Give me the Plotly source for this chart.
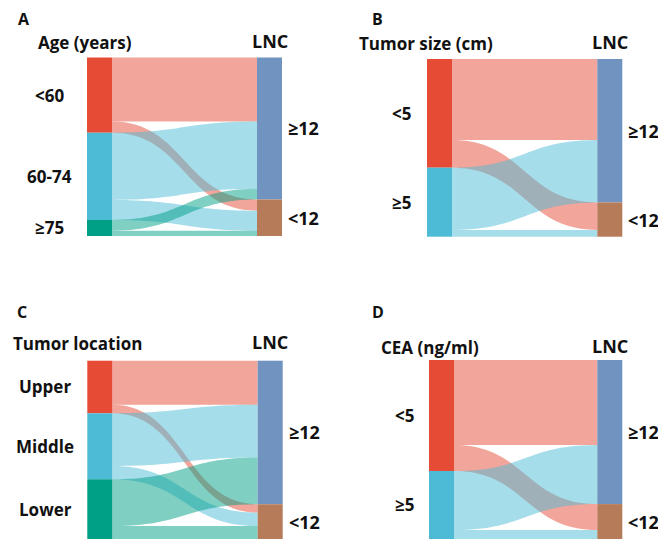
import plotly.graph_objects as go

# ---------------- data ----------------
lnc_labels = ["≥12", "<12"]

age_groups = ["<60", "60-74", "≥75"]
age_ge12 = [144, 151, 24]
age_lt12 = [25, 45, 12]

size_groups = ["<5", "≥5"]
size_ge12 = [182, 140]
size_lt12 = [62, 15]

loc_groups = ["Upper", "Middle", "Lower"]
loc_ge12 = [99, 118, 105]
loc_lt12 = [19, 30, 29]

cea_groups = ["<5", "≥5"]
cea_ge12 = [190, 132]
cea_lt12 = [58, 20]

# ---------------- style ----------------
W, H = 658, 539
LEFT_COLORS = ["#E64B35", "#4DBBD5", "#00A087"]
RIGHT_COLORS = ["#7093BF", "#B67B58"]
FONT = "Open Sans"
THICK = 25


def rgba(hex_color, a):
    h = hex_color.lstrip("#")
    r, g, b = (int(h[i:i + 2], 16) for i in (0, 2, 4))
    return f"rgba({r},{g},{b},{a})"


def px_x(x):
    return x / W


def px_y(y):
    return 1 - y / H


# panel frames in pixels: (x0, x1, y_top, y_bottom)
panels = [
    dict(letter="A", title="Age (years)", groups=age_groups, ge=age_ge12, lt=age_lt12,
         frame=(87, 282, 57.5, 236), title_cx=85, letter_x=16, lab_cx=49, lab_size=17,
         head_y=43, lnc_y=41, letter_y=19),
    dict(letter="B", title="Tumor size (cm)", groups=size_groups, ge=size_ge12, lt=size_lt12,
         frame=(427, 622.3, 59, 236.7), title_cx=426, letter_x=370, lab_cx=401, lab_size=17,
         head_y=44, lnc_y=42, letter_y=19),
    dict(letter="C", title="Tumor location", groups=loc_groups, ge=loc_ge12, lt=loc_lt12,
         frame=(87.3, 282.7, 360.7, 539), title_cx=77.5, letter_x=15, lab_cx=45, lab_size=17,
         head_y=343, lnc_y=342, letter_y=312),
    dict(letter="D", title="CEA (ng/ml)", groups=cea_groups, ge=cea_ge12, lt=cea_lt12,
         frame=(429, 622.3, 360, 539), title_cx=430, letter_x=370, lab_cx=404, lab_size=17,
         head_y=347, lnc_y=346, letter_y=312),
]

fig = go.Figure()
annotations = []


def centers(values, top, bottom):
    """Vertical pixel centre of each stacked node (nodes fill the column, no padding)."""
    total = sum(values)
    out, acc = [], 0
    for v in values:
        out.append(top + (acc + v / 2) / total * (bottom - top))
        acc += v
    return out


for p in panels:
    groups, ge, lt = p["groups"], p["ge"], p["lt"]
    n = len(groups)
    x0, x1, yt, yb = p["frame"]

    src, tgt, val, lcol = [], [], [], []
    for i in range(n):
        for j, arr in enumerate((ge, lt)):
            src.append(i)
            tgt.append(n + j)
            val.append(arr[i])
            lcol.append(rgba(LEFT_COLORS[i], 0.5))

    left_tot = [ge[i] + lt[i] for i in range(n)]
    right_tot = [sum(ge), sum(lt)]
    total = sum(left_tot)

    # node centres: columns at both ends of the domain, stacked by totals
    half = (THICK / 2) / (x1 - x0)
    node_x = [half] * n + [1 - half] * 2
    node_y = []
    acc = 0
    for v in left_tot:
        node_y.append((acc + v / 2) / total)
        acc += v
    acc = 0
    for v in right_tot:
        node_y.append((acc + v / 2) / total)
        acc += v

    fig.add_trace(go.Sankey(
        domain=dict(x=[px_x(x0), px_x(x1)], y=[px_y(yb), px_y(yt)]),
        arrangement="fixed",
        node=dict(
            label=[""] * (n + 2),
            color=LEFT_COLORS[:n] + RIGHT_COLORS,
            pad=0,
            thickness=THICK,
            line=dict(width=0),
            x=node_x,
            y=node_y,
        ),
        link=dict(source=src, target=tgt, value=val, color=lcol),
        textfont=dict(size=1, color="rgba(0,0,0,0)"),
        hoverinfo="skip",
    ))

    # panel letter and column headings
    annotations.append(dict(x=px_x(p["letter_x"]), y=px_y(p["letter_y"]), text=f"<b>{p['letter']}</b>",
                            xanchor="left", yanchor="middle", font=dict(size=16)))
    annotations.append(dict(x=px_x(p["title_cx"]), y=px_y(p["head_y"]), text=f"<b>{p['title']}</b>",
                            xanchor="center", yanchor="middle", font=dict(size=17)))
    annotations.append(dict(x=px_x(x1 - THICK / 2), y=px_y(p["lnc_y"]), text="<b>LNC</b>",
                            xanchor="center", yanchor="middle", font=dict(size=18)))

    # category labels beside the nodes
    for g, cy in zip(groups, centers(left_tot, yt, yb)):
        annotations.append(dict(x=px_x(p["lab_cx"]), y=px_y(cy), text=f"<b>{g}</b>",
                                xanchor="center", yanchor="middle", font=dict(size=p["lab_size"])))
    for g, cy in zip(lnc_labels, centers(right_tot, yt, yb)):
        annotations.append(dict(x=px_x(x1 + 4), y=px_y(cy), text=f"<b>{g}</b>",
                                xanchor="left", yanchor="middle", font=dict(size=18)))

for a in annotations:
    a.update(xref="paper", yref="paper", showarrow=False)
    a["font"].update(family=FONT, color="#111111")

fig.update_layout(
    width=W, height=H,
    margin=dict(l=0, r=0, t=0, b=0),
    paper_bgcolor="white",
    plot_bgcolor="white",
    annotations=annotations,
    font=dict(family=FONT),
)

fig.write_html("out.html")
